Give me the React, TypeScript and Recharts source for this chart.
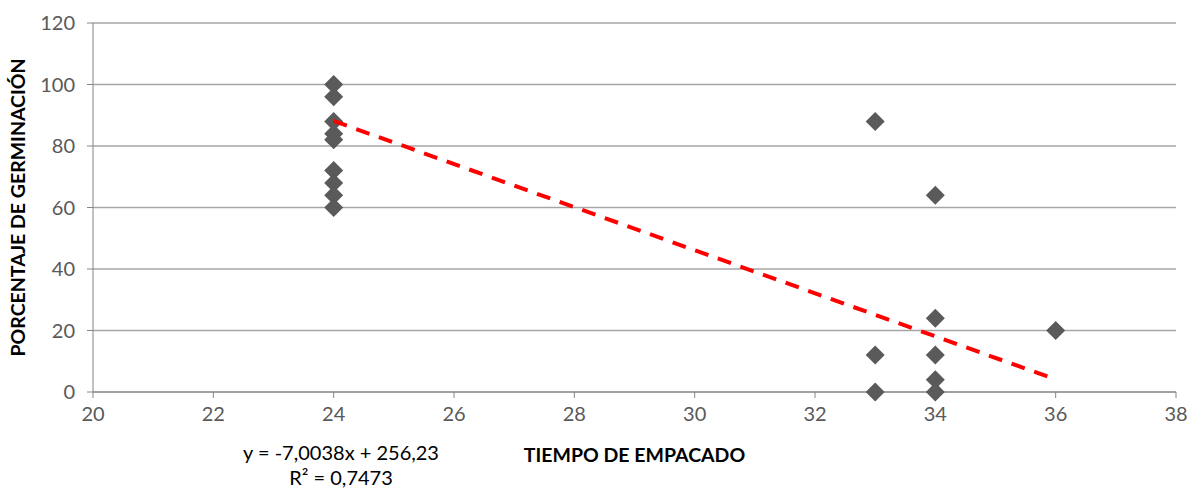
import React from "react";
import { ScatterChart, Scatter, XAxis, YAxis, CartesianGrid, Label } from "recharts";

// tiempo de empacado vs porcentaje de germinación
const tiempo = [24, 24, 24, 24, 24, 24, 24, 24, 24, 33, 33, 33, 34, 34, 34, 34, 34, 36];
const germinacion = [100, 96, 88, 84, 82, 72, 68, 64, 60, 88, 12, 0, 64, 24, 12, 4, 0, 20];

// linear trend endpoints (y = -7,0038x + 256,23)
const trendX = [24, 36];
const trendY = [88.14, 4.09];

const xTicks = [20, 22, 24, 26, 28, 30, 32, 34, 36, 38];
const yTicks = [0, 20, 40, 60, 80, 100, 120];

const points = tiempo.map((x, i) => ({ x, y: germinacion[i] }));
const trend = trendX.map((x, i) => ({ x, y: trendY[i] }));

const FONT = "Lato, 'Open Sans', sans-serif";
const AXIS = "#868686";
const GRID = "#a6a6a6";
const TICK = { fill: "#595959", fontSize: 20, fontFamily: FONT };

const Diamond = (props: any) => {
  const { cx, cy } = props;
  const r = 9.5;
  return <path d={`M${cx},${cy - r}L${cx + r},${cy}L${cx},${cy + r}L${cx - r},${cy}Z`} fill="#5a5a5a" />;
};

const NoDot = () => <g />;

export default function App() {
  return (
    <div style={{ position: "absolute", left: 0, top: 0, background: "#fff" }}>
      <ScatterChart width={1191} height={489} margin={{ top: 23, right: 15, bottom: 67, left: 0 }}>
        <CartesianGrid vertical={false} stroke={GRID} strokeWidth={1.3} />
        <XAxis
          dataKey="x"
          type="number"
          domain={[20, 38]}
          ticks={xTicks}
          height={30}
          stroke={AXIS}
          tickSize={6}
          tickMargin={9}
          tick={TICK}
          allowDataOverflow
        >
          <Label
            content={({ viewBox }: any) => (
              <text x={viewBox.x + viewBox.width / 2} y={viewBox.y + 70} textAnchor="middle" fontFamily={FONT} fontWeight="bold" fontSize={19.5} fill="#000">
                TIEMPO DE EMPACADO
              </text>
            )}
          />
          <Label
            content={({ viewBox }: any) => (
              <text x={viewBox.x + 248} textAnchor="middle" fontFamily={FONT} fontSize={20} fill="#000">
                <tspan x={viewBox.x + 248} y={viewBox.y + 68}>y = -7,0038x + 256,23</tspan>
                <tspan x={viewBox.x + 248} y={viewBox.y + 93}>R² = 0,7473</tspan>
              </text>
            )}
          />
        </XAxis>
        <YAxis
          dataKey="y"
          type="number"
          domain={[0, 120]}
          ticks={yTicks}
          width={93}
          stroke={AXIS}
          tickSize={6}
          tickMargin={12}
          tick={TICK}
        >
          <Label
            content={({ viewBox }: any) => {
              const cx = viewBox.x + 25;
              const cy = viewBox.y + viewBox.height / 2;
              return (
                <text x={cx} y={cy} transform={`rotate(-90 ${cx} ${cy})`} textAnchor="middle" fontFamily={FONT} fontWeight="bold" fontSize={19.5} fill="#000">
                  PORCENTAJE DE GERMINACIÓN
                </text>
              );
            }}
          />
        </YAxis>
        <Scatter data={points} shape={<Diamond />} isAnimationActive={false} />
        <Scatter
          data={trend}
          shape={<NoDot />}
          line={{ stroke: "#ff0000", strokeWidth: 4, strokeDasharray: "14 10" }}
          lineType="joint"
          isAnimationActive={false}
        />
      </ScatterChart>
    </div>
  );
}
